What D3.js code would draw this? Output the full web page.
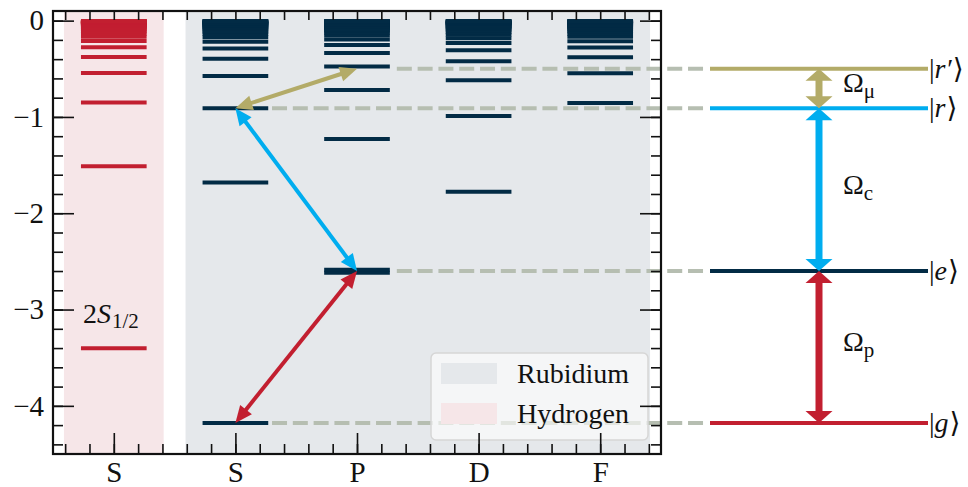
<!DOCTYPE html>
<html>
<head>
<meta charset="utf-8">
<script src="https://cdn.jsdelivr.net/npm/d3@7"></script>
<style>
  html, body { margin: 0; padding: 0; background: #fff; }
  svg text { font-family: "Liberation Serif", "DejaVu Serif", serif; fill: #111; }
</style>
</head>
<body>
<svg id="chart" width="968" height="487"></svg>
<script>
// Binding energies (eV) of the hydrogen series and the rubidium S, P, D, F series
const hydrogenS = [-3.4014, -1.5117, -0.8504, -0.5442, -0.3779, -0.2777, -0.2126, -0.1680, -0.1361,
  -0.1124, -0.0945, -0.0805, -0.0694, -0.0605, -0.0531, -0.0471, -0.0420, -0.0377, -0.0340, -0.0309,
  -0.0281, -0.0257, -0.0236, -0.0218, -0.0201, -0.0187, -0.0174, -0.0162, -0.0151, -0.0133, -0.0118,
  -0.0105, -0.0085, -0.0067, -0.0054, -0.0038];
const rubidiumS = [-4.177, -1.680, -0.909, -0.574, -0.395, -0.2884, -0.2197, -0.1730, -0.1397, -0.1152,
  -0.0966, -0.0822, -0.0707, -0.0615, -0.0540, -0.0478, -0.0382, -0.0312, -0.0260, -0.0220, -0.0188,
  -0.0134, -0.0100, -0.0062, -0.0042];
const rubidiumP = [-2.617, -2.588, -1.230, -0.720, -0.475, -0.3374, -0.2519, -0.1951, -0.1556, -0.1270,
  -0.1056, -0.0892, -0.0763, -0.0661, -0.0577, -0.0509, -0.0452, -0.0404, -0.0363, -0.0298, -0.0250,
  -0.0212, -0.0182, -0.0130, -0.0098, -0.0061, -0.0042];
const rubidiumD = [-1.777, -0.990, -0.620, -0.422, -0.3077, -0.2325, -0.1818, -0.1461, -0.1200, -0.1003,
  -0.0850, -0.0730, -0.0634, -0.0556, -0.0491, -0.0391, -0.0319, -0.0265, -0.0224, -0.0192, -0.0166,
  -0.0120, -0.0091, -0.0059, -0.0041];
const rubidiumF = [-0.855, -0.546, -0.379, -0.2789, -0.2134, -0.1686, -0.1365, -0.1127, -0.0947, -0.0807,
  -0.0696, -0.0606, -0.0532, -0.0472, -0.0421, -0.0341, -0.0281, -0.0236, -0.0201, -0.0174, -0.0151,
  -0.0111, -0.0085, -0.0054, -0.0038];

// x categories: hydrogen S column, then rubidium S, P, D, F
const columnLabels = ["S", "S", "P", "D", "F"];
const yTickValues = [0, -1, -2, -3, -4];

// Four-level ladder used in the scheme: energy and column of each state
const stateNames = ["r′", "r", "e", "g"];
const stateEnergies = [-0.5, -0.909, -2.6, -4.177];
const stateColumns = [2, 1, 2, 1];
// Couplings between neighbouring states
const couplingLabels = ["μ", "c", "p"];

const colors = {
  hydrogen: "#C21F30", rubidium: "#022B45", cyan: "#00ADEF", gold: "#B3AB68",
  dash: "#B6BEB1", rbShade: "#E5E8EB", hShade: "#F6E6E8"
};
const stateColors = [colors.gold, colors.cyan, colors.rubidium, colors.hydrogen];
const couplingColors = [colors.gold, colors.cyan, colors.hydrogen];

const svg = d3.select("#chart");
const plotL = 53, plotR = 661, plotT = 11, plotB = 454;

const x = d3.scaleLinear().domain([-0.5, 4.5]).range([plotL, plotR]);
const y = d3.scaleLinear().domain([-4.5, 0.1]).range([plotB, plotT]);
// Scheme on the right shares the energy scale
const xR = d3.scaleLinear().domain([0, 1]).range([710, 928]);

const halfW = 0.27, levelW = 4;

// Background bands
svg.append("rect").attr("x", x(-0.41)).attr("y", plotT).attr("width", x(0.41) - x(-0.41))
  .attr("height", plotB - plotT).attr("fill", colors.hShade);
svg.append("rect").attr("x", x(0.59)).attr("y", plotT).attr("width", x(4.41) - x(0.59))
  .attr("height", plotB - plotT).attr("fill", colors.rbShade);

// Energy levels
function drawLevels(values, col, color) {
  svg.append("g").selectAll("line").data(values).join("line")
    .attr("x1", x(col - halfW)).attr("x2", x(col + halfW))
    .attr("y1", d => y(d)).attr("y2", d => y(d))
    .attr("stroke", color).attr("stroke-width", levelW);
}
drawLevels(hydrogenS, 0, colors.hydrogen);
drawLevels(rubidiumS, 1, colors.rubidium);
drawLevels(rubidiumP, 2, colors.rubidium);
drawLevels(rubidiumD, 3, colors.rubidium);
drawLevels(rubidiumF, 4, colors.rubidium);

// Dashed guides from each state to the scheme (drawn right to left so dashes end cleanly)
svg.append("g").selectAll("line").data(stateEnergies).join("line")
  .attr("x1", xR(-0.032)).attr("x2", (d, i) => x(stateColumns[i] + 0.3))
  .attr("y1", d => y(d)).attr("y2", d => y(d))
  .attr("stroke", colors.dash).attr("stroke-width", 4).attr("stroke-dasharray", "15 5.8");

// Scheme levels
svg.append("g").selectAll("line").data(stateEnergies).join("line")
  .attr("x1", xR(0)).attr("x2", xR(1))
  .attr("y1", d => y(d)).attr("y2", d => y(d))
  .attr("stroke", (d, i) => stateColors[i]).attr("stroke-width", 4);

// Double-headed arrow
function doubleArrow(x1, y1, x2, y2, color, shaft, hl, hw) {
  const dx = x2 - x1, dy = y2 - y1, L = Math.hypot(dx, dy);
  const ux = dx / L, uy = dy / L, px = -uy, py = ux;
  const g = svg.append("g");
  g.append("line")
    .attr("x1", x1 + ux * hl * 0.9).attr("y1", y1 + uy * hl * 0.9)
    .attr("x2", x2 - ux * hl * 0.9).attr("y2", y2 - uy * hl * 0.9)
    .attr("stroke", color).attr("stroke-width", shaft);
  const head = (tx, ty, sx, sy) => {
    const bx = tx - sx * hl, by = ty - sy * hl;
    return `M${tx},${ty}L${bx + px * hw / 2},${by + py * hw / 2}L${bx - px * hw / 2},${by - py * hw / 2}Z`;
  };
  g.append("path").attr("d", head(x2, y2, ux, uy)).attr("fill", color);
  g.append("path").attr("d", head(x1, y1, -ux, -uy)).attr("fill", color);
}

// Transitions in the level diagram and in the scheme
for (let i = 0; i < couplingLabels.length; i++) {
  doubleArrow(x(stateColumns[i]), y(stateEnergies[i]), x(stateColumns[i + 1]), y(stateEnergies[i + 1]),
    couplingColors[i], 4, 17, 15);
  doubleArrow(xR(0.5), y(stateEnergies[i]), xR(0.5), y(stateEnergies[i + 1]),
    couplingColors[i], 7, 12, 27);
}

// Coupling labels
couplingLabels.forEach((lab, i) => {
  const mid = (y(stateEnergies[i]) + y(stateEnergies[i + 1])) / 2;
  const t = svg.append("text").attr("x", xR(0.61)).attr("y", mid + 4).attr("font-size", 28);
  t.append("tspan").text("Ω");
  t.append("tspan").attr("font-size", 21).attr("dy", 6).text(lab);
});

// State kets
stateNames.forEach((nm, i) => {
  const t = svg.append("text").attr("x", xR(1) + 1).attr("y", y(stateEnergies[i]) + 9).attr("font-size", 28);
  t.append("tspan").text("|");
  t.append("tspan").attr("font-style", "italic").text(nm);
  t.append("tspan").attr("dx", 1).text("⟩");
});

// 2S1/2 label
const lab2s = svg.append("text").attr("x", 83).attr("y", 323).attr("font-size", 28);
lab2s.append("tspan").text("2");
lab2s.append("tspan").attr("font-style", "italic").text("S");
lab2s.append("tspan").attr("font-size", 21).attr("dy", 5).attr("dx", 1).text("1/2");

// Legend
const leg = svg.append("g");
leg.append("rect").attr("x", 431).attr("y", 353).attr("width", 217).attr("height", 87).attr("rx", 5)
  .attr("fill", "#fff").attr("fill-opacity", 0.6).attr("stroke", "#d6d6d6").attr("stroke-width", 1.5);
[["Rubidium", colors.rbShade, 363], ["Hydrogen", colors.hShade, 403]].forEach(([name, c, yy]) => {
  leg.append("rect").attr("x", 441).attr("y", yy).attr("width", 56).attr("height", 21).attr("fill", c);
  leg.append("text").attr("x", 517).attr("y", yy + 20).attr("font-size", 28).text(name);
});

// Axes with inward ticks on all four sides
const fontSize = 29;
const axisStyle = g => {
  g.select(".domain").remove();
  g.selectAll("line").attr("stroke", "#111").attr("stroke-width", 1.6);
  g.selectAll("text").attr("font-size", fontSize).attr("font-family", "Liberation Serif, serif").attr("fill", "#111");
};
const minorY = d3.range(0, 23).map(i => -i * 0.2).filter(v => v >= -4.5);
const minorX = d3.range(0, 25).map(i => -0.4 + i * 0.2);

svg.append("g").attr("transform", `translate(${plotL},0)`)
  .call(d3.axisLeft(y).tickValues(minorY).tickSize(-10).tickFormat("")).call(axisStyle);
svg.append("g").attr("transform", `translate(${plotL},0)`)
  .call(d3.axisLeft(y).tickValues(yTickValues).tickSize(-21).tickPadding(9).tickFormat(d3.format("d"))).call(axisStyle);
svg.append("g").attr("transform", `translate(${plotR},0)`)
  .call(d3.axisRight(y).tickValues(minorY).tickSize(-10).tickFormat("")).call(axisStyle);
svg.append("g").attr("transform", `translate(${plotR},0)`)
  .call(d3.axisRight(y).tickValues(yTickValues).tickSize(-21).tickFormat("")).call(axisStyle);
svg.append("g").attr("transform", `translate(0,${plotB})`)
  .call(d3.axisBottom(x).tickValues(minorX).tickSize(-10).tickFormat("")).call(axisStyle);
svg.append("g").attr("transform", `translate(0,${plotB})`)
  .call(d3.axisBottom(x).tickValues(d3.range(columnLabels.length)).tickSize(-21).tickPadding(7)
    .tickFormat(i => columnLabels[i])).call(axisStyle);
svg.append("g").attr("transform", `translate(0,${plotT})`)
  .call(d3.axisTop(x).tickValues(minorX).tickSize(-9).tickFormat("")).call(axisStyle);

// Frame
svg.append("rect").attr("x", plotL).attr("y", plotT).attr("width", plotR - plotL).attr("height", plotB - plotT)
  .attr("fill", "none").attr("stroke", "#111").attr("stroke-width", 2.2);
</script>
</body>
</html>
